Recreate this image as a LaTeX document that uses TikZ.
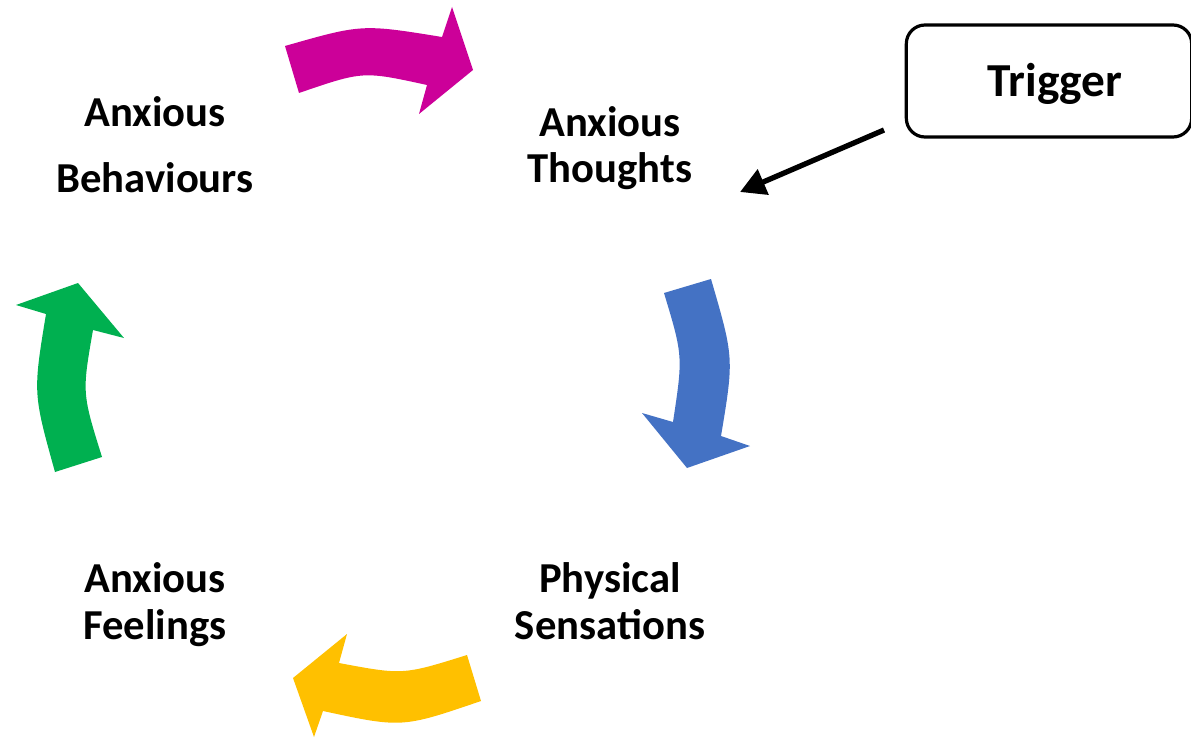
\documentclass[tikz,border=0pt]{standalone}
\usepackage{fontspec}
\setmainfont{Carlito}
\usetikzlibrary{arrows.meta}
\definecolor{cmag}{HTML}{CC0099}
\definecolor{cblue}{HTML}{4472C4}
\definecolor{cyel}{HTML}{FFC000}
\definecolor{cgreen}{HTML}{00B050}
\tikzset{
  lbl/.style={anchor=base, inner sep=0pt, font=\bfseries\fontsize{32}{36}\selectfont},
  trigbox/.style={draw, line width=2.4pt, rounded corners=14pt, minimum width=214pt, minimum height=84pt, inner sep=0pt},
  trigtxt/.style={anchor=base, inner sep=0pt, font=\bfseries\fontsize{35.5}{40}\selectfont},
  trigarrow/.style={line width=4pt, -{Triangle[length=19pt, width=20pt]}},
}
\begin{document}
\begin{tikzpicture}[x=0.75pt,y=-0.75pt]
\useasboundingbox (0,0) rectangle (1191,738);
% labels
\node[lbl] (ab1) at (155,127) {Anxious};
\node[lbl] (ab2) at (155,192) {Behaviours};
\node[lbl] (at1) at (610,137) {Anxious};
\node[lbl] (at2) at (610,182) {Thoughts};
\node[lbl] (ps1) at (610,592) {Physical};
\node[lbl] (ps2) at (610,639) {Sensations};
\node[lbl] (af1) at (155,592) {Anxious};
\node[lbl] (af2) at (155,639) {Feelings};
% trigger
\node[trigbox] (trig) at (1049,81) {};
\node[trigtxt] (trigt) at (1055,97) {Trigger};
\coordinate (trigS) at (884,130);
\coordinate (trigE) at (740,192);
\draw[trigarrow] (trigS) -- (trigE);
% magenta arrow (top)
\fill[cmag] (285,46) .. controls (362,24) .. (442,37) -- (452,7) -- (473,70) -- (419,114) -- (427,85)
  .. controls (363,71) .. (299,93) -- cycle;
% blue arrow (right)
\fill[cblue] (711,279) .. controls (734,358) .. (721,436) -- (750,446) -- (687,468) -- (642,413) -- (673,422)
  .. controls (683,356) .. (664,293) -- cycle;
% yellow arrow (bottom)
\fill[cyel] (467,655) .. controls (403,675) .. (339,663) -- (347,634) -- (293,678) -- (314,737) -- (323,711)
  .. controls (402,728) .. (481,701) -- cycle;
% green arrow (left)
\fill[cgreen] (55,472) .. controls (33,393) .. (46,314) -- (16,305) -- (78,283) -- (124,338) -- (93,330)
  .. controls (82,393) .. (102,457) -- cycle;
\end{tikzpicture}
\end{document}
